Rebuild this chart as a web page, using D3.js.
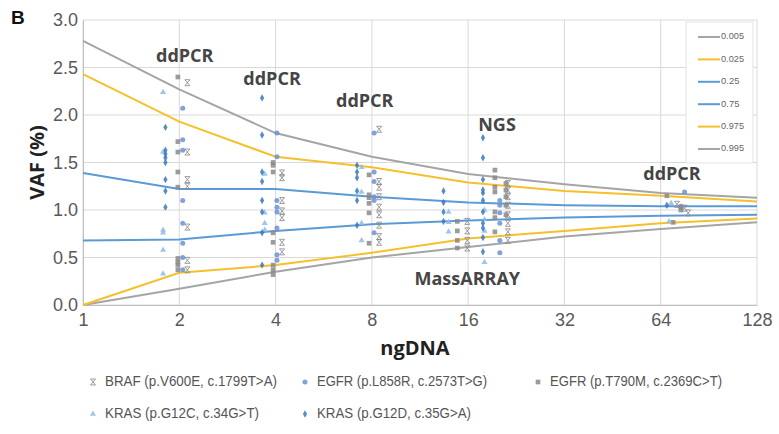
<!DOCTYPE html>
<html><head><meta charset="utf-8">
<script src="https://cdn.jsdelivr.net/npm/d3@7"></script>
<style>
body{margin:0;background:#fff;}
svg{display:block;}
</style></head>
<body>
<svg id="chart" width="779" height="434"></svg>
<script>
// ---------- DATA ----------
const ngLevels = [1, 2, 4, 8, 16, 32, 64, 128];
const xTickLabels = ["1", "2", "4", "8", "16", "32", "64", "128"];
const yTickValues = [0, 0.5, 1.0, 1.5, 2.0, 2.5, 3.0];
const quantileNames = ["0.005", "0.025", "0.25", "0.75", "0.975", "0.995"];
const q005 = [0.00, 0.17, 0.35, 0.50, 0.61, 0.72, 0.80, 0.87];
const q025 = [0.00, 0.34, 0.42, 0.55, 0.70, 0.78, 0.86, 0.91];
const q25  = [0.68, 0.69, 0.78, 0.85, 0.89, 0.92, 0.94, 0.95];
const q75  = [1.39, 1.22, 1.22, 1.14, 1.08, 1.05, 1.04, 1.04];
const q975 = [2.43, 1.93, 1.56, 1.45, 1.29, 1.20, 1.15, 1.09];
const q995 = [2.78, 2.27, 1.81, 1.56, 1.38, 1.27, 1.18, 1.13];

// scatter points: [ngDNA, VAF%]
const brafV600E = [
  [2.12,2.34],[2.12,1.61],[2.12,1.32],[2.12,1.25],[2.12,0.82],[2.12,0.47],[2.12,0.37],
  [4.19,1.39],[4.19,1.34],[4.19,1.10],[4.19,0.99],[4.19,0.92],[4.19,0.66],[4.19,0.56],
  [8.43,1.85],[8.43,1.30],[8.43,1.24],[8.43,1.14],[8.43,1.03],[8.43,0.95],[8.43,0.84],[8.43,0.72],[8.43,0.66],
  [15.9,0.88],[15.9,0.78],[15.9,0.68],[15.9,0.60],
  [21.3,1.28],[21.3,1.21],[21.3,1.14],[21.3,1.05],[21.3,0.95],[21.3,0.86],[21.3,0.77],[21.3,0.68],
  [72,1.06],[76,1.02],[78,0.97]
];
const egfrL858R = [
  [2.05,2.07],[2.05,1.74],[2.05,1.63],[2.05,1.10],[2.05,0.86],[2.05,0.65],[2.05,0.50],[2.05,0.37],
  [4.04,1.81],[4.04,1.56],[4.04,1.10],[4.04,1.03],[4.04,0.98],[4.04,0.81],[4.04,0.53],[4.04,0.47],
  [8.13,1.81],[8.13,1.40],[8.13,1.30],[8.13,1.14],[8.13,1.10],[8.13,0.76],
  [20.1,1.10],[20.1,1.05],[20.1,0.97],[20.1,0.86],[20.1,0.68],[20.1,0.55],
  [76,1.19],[74,1.04]
];
const egfrT790M = [
  [1.98,2.40],[1.98,1.72],[1.98,1.61],[1.98,1.40],[1.98,1.24],[1.98,0.49],[1.98,0.45],[1.98,0.42],[1.98,0.37],
  [3.93,1.50],[3.93,1.47],[3.93,1.40],[3.93,0.76],[3.93,0.66],[3.93,0.42],[3.93,0.37],[3.93,0.32],
  [7.84,1.37],[7.84,1.16],[7.84,1.13],[7.84,1.07],[7.84,0.97],[7.84,0.65],
  [14.8,0.88],[14.8,0.78],[14.8,0.68],[14.8,0.60],
  [19.4,1.42],[19.4,1.34],[19.4,1.24],[19.4,1.19],[19.4,0.98],[19.4,0.92],[19.4,0.77],
  [21.0,1.28],[21.0,1.21],[21.0,1.14],[21.0,1.05],[21.0,0.95],
  [66.9,1.15],[70,0.87],[74,1.03],[74,1.00]
];
const krasG12C = [
  [1.78,2.24],[1.78,1.61],[1.78,0.79],[1.78,0.76],[1.78,0.58],[1.78,0.33],
  [3.70,1.38],[3.70,0.97],[3.70,0.86],[3.70,0.79],
  [7.43,1.45],[7.43,1.19],[7.43,0.86],[7.43,0.68],
  [13.9,0.98],[13.9,0.87],[13.9,0.77],
  [18.0,1.00],[18.0,0.90],[18.0,0.78],[18.0,0.45],
  [69,1.07],[68,0.88]
];
const krasG12D = [
  [1.81,1.87],[1.81,1.63],[1.81,1.59],[1.81,1.55],[1.81,1.50],[1.81,1.32],[1.81,1.20],[1.81,1.03],
  [3.63,2.18],[3.63,1.79],[3.63,1.40],[3.63,1.30],[3.63,1.10],[3.63,0.98],[3.63,0.76],[3.63,0.42],
  [7.19,1.47],[7.19,1.40],[7.19,1.34],[7.19,1.20],[7.19,1.10],[7.19,0.84],
  [13.4,1.20],[13.4,1.08],[13.4,0.98],[13.4,0.88],
  [17.8,1.76],[17.8,1.55],[17.8,1.32],[17.8,1.21],[17.8,1.18],[17.8,1.10],[17.8,0.98],[17.8,0.86],[17.8,0.81],[17.8,0.71],[17.8,0.56],
  [66.9,1.05]
];
const seriesNames = ["BRAF (p.V600E, c.1799T>A)", "EGFR (p.L858R, c.2573T>G)", "EGFR (p.T790M, c.2369C>T)",
                     "KRAS (p.G12C, c.34G>T)", "KRAS (p.G12D, c.35G>A)"];
const annotTexts = ["ddPCR", "ddPCR", "ddPCR", "NGS", "ddPCR", "MassARRAY"];
const annotNg    = [2.08, 3.9, 7.6, 19.7, 69.4, 15.9];
const annotVaf   = [2.61, 2.37, 2.13, 1.88, 1.37, 0.26];

// ---------- CHART ----------
const W = 779, H = 434;
const m = {left: 83, right: 22, top: 20, bottom: 129};
const svg = d3.select("#chart");
const x = d3.scaleLog().base(2).domain([1, 128]).range([m.left, W - m.right]);
const y = d3.scaleLinear().domain([0, 3]).range([H - m.bottom, m.top]);

const tickFont = "'Liberation Sans', Arial, sans-serif";
const grid = svg.append("g");
grid.selectAll("line.v").data(ngLevels).join("line")
  .attr("x1", d => x(d)).attr("x2", d => x(d)).attr("y1", y(3)).attr("y2", y(0))
  .attr("stroke", "#d9d9d9").attr("stroke-width", 1);
grid.selectAll("line.h").data(yTickValues).join("line")
  .attr("x1", x(1)).attr("x2", x(128)).attr("y1", d => y(d)).attr("y2", d => y(d))
  .attr("stroke", "#d9d9d9").attr("stroke-width", 1);

// axes (labels only)
const xAxis = d3.axisBottom(x).tickValues(ngLevels).tickFormat((d, i) => xTickLabels[i]).tickSize(0).tickPadding(8);
const gx = svg.append("g").attr("transform", `translate(0,${y(0)})`).call(xAxis);
gx.select(".domain").attr("stroke", "#bfbfbf");
gx.selectAll("text").attr("font-family", tickFont).attr("font-size", 18).attr("fill", "#595959");
const yAxis = d3.axisLeft(y).tickValues(yTickValues).tickFormat(d3.format(".1f")).tickSize(0).tickPadding(5);
const gy = svg.append("g").attr("transform", `translate(${x(1)},0)`).call(yAxis);
gy.select(".domain").attr("stroke", "#bfbfbf");
gy.selectAll("text").attr("font-family", tickFont).attr("font-size", 18).attr("fill", "#595959");

// quantile lines
const qSeries = [q005, q025, q25, q75, q975, q995];
const qColors = ["#a5a5a5", "#f5c02c", "#5b9bd5", "#5b9bd5", "#f5c02c", "#a5a5a5"];
const line = d3.line().x((d, i) => x(ngLevels[i])).y(d => y(d));
qSeries.forEach((s, k) => {
  svg.append("path").datum(s).attr("d", line).attr("fill", "none")
    .attr("stroke", qColors[k]).attr("stroke-width", 2);
});

// markers
const sym = {
  x: "M-2.5,-3L2.5,3M2.5,-3L-2.5,3M-2.5,-3L2.5,-3M-2.5,3L2.5,3",
  circle: d3.symbol(d3.symbolCircle, 20)(),
  square: d3.symbol(d3.symbolSquare, 22)(),
  triangle: d3.symbol(d3.symbolTriangle, 16)(),
  diamond: d3.symbol(d3.symbolDiamond, 16)()
};
const series = [
  {data: brafV600E, shape: "x", color: "#8c8c8c", stroke: true},
  {data: egfrL858R, shape: "circle", color: "#6b93d6"},
  {data: egfrT790M, shape: "square", color: "#8a8a8a"},
  {data: krasG12C, shape: "triangle", color: "#8fbbe6"},
  {data: krasG12D, shape: "diamond", color: "#3b78c0"}
];
series.forEach(s => {
  svg.append("g").selectAll("path").data(s.data).join("path")
    .attr("transform", d => `translate(${x(d[0])},${y(d[1])})`)
    .attr("d", sym[s.shape])
    .attr("fill", s.stroke ? "none" : s.color)
    .attr("stroke", s.stroke ? s.color : "none")
    .attr("stroke-width", s.stroke ? 1 : 0)
    .attr("opacity", 0.85);
});

// annotations
const annFont = "'Open Sans', sans-serif";
svg.append("g").selectAll("text").data(annotTexts).join("text")
  .attr("x", (d, i) => x(annotNg[i])).attr("y", (d, i) => y(annotVaf[i]))
  .attr("text-anchor", "middle").attr("dominant-baseline", "middle")
  .attr("font-family", annFont).attr("font-weight", "bold").attr("font-size", 18)
  .attr("fill", "#454545").text(d => d);

// quantile legend
const lg = svg.append("g");
lg.append("rect").attr("x", 686).attr("y", 22).attr("width", 67).attr("height", 141)
  .attr("fill", "#fff").attr("stroke", "#e3e3e3");
quantileNames.forEach((name, i) => {
  const yy = 37 + i * 22.4;
  lg.append("line").attr("x1", 698).attr("x2", 720).attr("y1", yy).attr("y2", yy)
    .attr("stroke", qColors[i]).attr("stroke-width", 2);
  lg.append("text").attr("x", 721).attr("y", yy).attr("dominant-baseline", "middle")
    .attr("font-family", tickFont).attr("font-size", 9).attr("fill", "#666")
    .attr("textLength", name.length * 4.6).attr("lengthAdjust", "spacingAndGlyphs").text(name);
});

// titles
svg.append("text").attr("x", 11).attr("y", 24).attr("font-family", "'Liberation Sans', Arial, sans-serif")
  .attr("font-weight", "bold").attr("font-size", 19).attr("fill", "#111").text("B");
svg.append("text").attr("transform", `translate(44,${(y(0) + y(3)) / 2}) rotate(-90)`)
  .attr("text-anchor", "middle").attr("font-family", annFont).attr("font-weight", "bold")
  .attr("font-size", 20).attr("fill", "#222").text("VAF (%)");
svg.append("text").attr("x", 415).attr("y", 355).attr("text-anchor", "middle")
  .attr("font-family", annFont).attr("font-weight", "bold").attr("font-size", 20)
  .attr("fill", "#222").text("ngDNA");

// bottom legend
const bl = [
  {shape: "x", color: "#8c8c8c", stroke: true, mx: 93, my: 382, w: 172},
  {shape: "circle", color: "#6b93d6", mx: 305, my: 382, w: 170},
  {shape: "square", color: "#8a8a8a", mx: 538, my: 382, w: 172},
  {shape: "triangle", color: "#8fbbe6", mx: 93, my: 414, w: 154},
  {shape: "diamond", color: "#3b78c0", mx: 305, my: 414, w: 154}
];
bl.forEach((b, i) => {
  svg.append("path").attr("transform", `translate(${b.mx},${b.my})`).attr("d", sym[b.shape])
    .attr("fill", b.stroke ? "none" : b.color).attr("stroke", b.stroke ? b.color : "none")
    .attr("stroke-width", 1).attr("opacity", 0.85);
  svg.append("text").attr("x", b.mx + 12).attr("y", b.my).attr("dominant-baseline", "middle")
    .attr("font-family", tickFont).attr("font-size", 15).attr("fill", "#555")
    .attr("textLength", b.w).attr("lengthAdjust", "spacingAndGlyphs").text(seriesNames[i]);
});
</script>
</body></html>
